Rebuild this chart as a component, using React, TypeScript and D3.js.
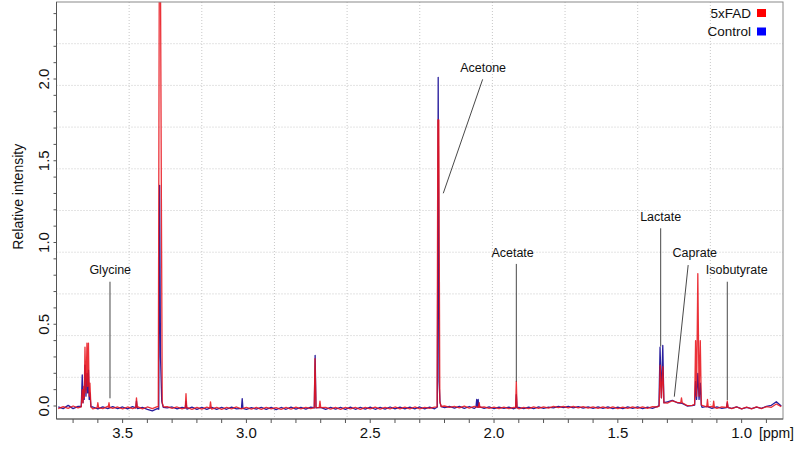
import React from 'react';
import * as d3 from 'd3';

// chemical shift domain (ppm, reversed) and intensity domain
const ppmDomain: [number, number] = [3.767, 0.833];
const intensityDomain: [number, number] = [-0.0795, 2.471];

// baseline read every 0.02 ppm from 3.76 down to 0.84
const BASE_START = 3.76;
const BASE_STEP = 0.02;

const redBaseline = [
  -0.016, -0.004, -0.014, 0.000, -0.012, 0.000, 0.005, -0.018, -0.004, -0.016,
  -0.002, -0.014, -0.006, -0.018, -0.006, -0.016, -0.004, -0.018, -0.006, -0.016,
  -0.004, 0.000, -0.004, -0.014, -0.006, -0.018, -0.008, -0.020, -0.008, -0.019,
  -0.007, -0.019, -0.008, -0.020, -0.009, -0.017, -0.006, -0.018, -0.008, -0.019,
  -0.009, -0.020, -0.008, -0.018, -0.010, -0.021, -0.009, -0.019, -0.007, -0.018,
  -0.008, -0.016, -0.004, -0.017, -0.009, -0.019, -0.008, -0.020, -0.008, -0.018,
  -0.009, -0.020, -0.008, -0.018, -0.007, -0.019, -0.008, -0.018, -0.006, -0.017,
  -0.007, -0.018, -0.006, -0.017, -0.008, -0.015, -0.007, -0.014, 0.000, -0.008,
  -0.002, -0.012, -0.001, -0.013, -0.003, -0.014, -0.006, -0.015, -0.007, -0.016,
  -0.007, -0.016, -0.008, -0.017, -0.008, -0.016, -0.006, -0.015, -0.005, -0.013,
  -0.002, -0.010, -0.002, -0.011, -0.003, -0.012, -0.004, -0.013, -0.005, -0.014,
  -0.006, -0.015, -0.006, -0.016, -0.007, -0.015, -0.005, -0.014, -0.006, -0.015,
  -0.004, -0.006, 0.040, 0.018, 0.032, 0.022, 0.012, 0.002, 0.004, 0.020,
  0.004, -0.008, -0.002, -0.014, -0.006, -0.010, -0.016, -0.006, -0.018, -0.007,
  -0.017, -0.006, -0.016, -0.004, -0.008, 0.012, -0.004,
];

const blueBaseline = [
  -0.006, -0.016, 0.004, -0.016, -0.002, 0.002, 0.004, -0.006, -0.018, -0.005,
  -0.016, -0.004, -0.016, -0.006, -0.018, -0.004, -0.016, -0.008, -0.020, -0.030,
  -0.016, 0.000, -0.012, -0.006, -0.018, -0.008, -0.019, -0.007, -0.021, -0.008,
  -0.020, -0.008, -0.021, -0.009, -0.020, -0.007, -0.018, -0.009, -0.021, -0.010,
  -0.019, -0.009, -0.020, -0.008, -0.022, -0.009, -0.020, -0.007, -0.019, -0.008,
  -0.019, -0.007, -0.018, -0.008, -0.020, -0.009, -0.019, -0.008, -0.021, -0.007,
  -0.020, -0.008, -0.019, -0.007, -0.020, -0.009, -0.019, -0.006, -0.018, -0.007,
  -0.018, -0.007, -0.017, -0.006, -0.018, -0.007, -0.017, -0.005, -0.010, -0.003,
  -0.013, -0.002, -0.014, -0.003, -0.015, -0.004, -0.014, -0.006, -0.016, -0.007,
  -0.015, -0.007, -0.017, -0.008, -0.016, -0.007, -0.016, -0.006, -0.015, -0.007,
  -0.012, -0.002, -0.010, -0.003, -0.011, -0.004, -0.013, -0.005, -0.014, -0.006,
  -0.015, -0.006, -0.016, -0.007, -0.016, -0.006, -0.015, -0.005, -0.016, -0.007,
  -0.014, -0.002, 0.040, 0.026, 0.034, 0.020, 0.016, 0.000, 0.002, 0.010,
  -0.008, -0.002, -0.014, -0.006, -0.015, -0.007, -0.014, -0.006, -0.017, -0.008,
  -0.016, -0.007, -0.014, -0.002, 0.004, 0.026, 0.000,
];

// peaks: each group is a run of [ppm, intensity] points
const redPeaks: [number, number][][] = [
  [[3.667, -0.005], [3.663, 0.10], [3.660, 0.02], [3.657, 0.12], [3.655, 0.05], [3.652, 0.36], [3.648, 0.08],
   [3.644, 0.385], [3.641, 0.12], [3.638, 0.385], [3.635, 0.06], [3.632, 0.14], [3.628, -0.005]],
  [[3.603, -0.01], [3.600, 0.02], [3.597, -0.01]],
  [[3.558, -0.008], [3.555, 0.02], [3.552, -0.008]],
  [[3.447, -0.01], [3.444, 0.05], [3.441, -0.01]],
  [[3.356, -0.005], [3.352, 2.6], [3.347, 2.6], [3.340, 0.02], [3.335, -0.005]],
  [[3.247, -0.012], [3.244, 0.075], [3.241, -0.012]],
  [[3.148, -0.013], [3.145, 0.025], [3.142, -0.013]],
  [[2.726, -0.01], [2.723, 0.29], [2.719, -0.01]],
  [[2.706, -0.01], [2.703, 0.03], [2.700, -0.01]],
  [[2.230, -0.005], [2.227, 1.75], [2.223, 1.75], [2.219, 0.03], [2.214, -0.003]],
  [[2.063, -0.008], [2.060, 0.02], [2.057, -0.008]],
  [[1.913, -0.01], [1.910, 0.15], [1.907, -0.01]],
  [[1.333, 0.0], [1.329, 0.25], [1.324, 0.05], [1.318, 0.24], [1.314, 0.02]],
  [[1.246, 0.02], [1.243, 0.05], [1.240, 0.02]],
  [[1.190, 0.01], [1.186, 0.40], [1.182, 0.06], [1.177, 0.81], [1.172, 0.06], [1.167, 0.40], [1.163, 0.01]],
  [[1.141, -0.005], [1.138, 0.04], [1.135, -0.005]],
  [[1.116, -0.008], [1.113, 0.03], [1.110, -0.008]],
  [[1.061, -0.008], [1.058, 0.03], [1.055, -0.008]],
];

const bluePeaks: [number, number][][] = [
  [[3.667, -0.003], [3.663, 0.19], [3.660, 0.02], [3.657, 0.10], [3.655, 0.04], [3.652, 0.25], [3.648, 0.06],
   [3.644, 0.20], [3.641, 0.08], [3.638, 0.22], [3.635, 0.04], [3.632, 0.08], [3.628, -0.005]],
  [[3.447, -0.012], [3.444, 0.03], [3.441, -0.012]],
  [[3.354, -0.02], [3.3505, 1.35], [3.347, 0.30], [3.342, 0.03], [3.336, -0.008]],
  [[3.247, -0.013], [3.244, 0.03], [3.241, -0.013]],
  [[3.020, -0.014], [3.017, 0.045], [3.014, -0.014]],
  [[2.726, -0.012], [2.7225, 0.31], [2.719, -0.012]],
  [[2.229, -0.006], [2.2255, 2.01], [2.222, 0.15], [2.218, 0.02], [2.213, -0.004]],
  [[2.073, -0.008], [2.070, 0.04], [2.067, -0.006], [2.064, 0.04], [2.061, -0.008]],
  [[1.913, -0.012], [1.910, 0.07], [1.907, -0.012]],
  [[1.334, 0.0], [1.3295, 0.36], [1.324, 0.05], [1.3185, 0.37], [1.314, 0.02]],
  [[1.190, 0.005], [1.186, 0.15], [1.182, 0.04], [1.177, 0.20], [1.172, 0.04], [1.167, 0.14], [1.163, 0.005]],
  [[1.061, -0.01], [1.058, 0.02], [1.055, -0.01]],
];

const xMinorTicks = [3.7, 3.6, 3.5, 3.4, 3.3, 3.2, 3.1, 3.0, 2.9, 2.8, 2.7, 2.6, 2.5, 2.4, 2.3, 2.2, 2.1, 2.0,
  1.9, 1.8, 1.7, 1.6, 1.5, 1.4, 1.3, 1.2, 1.1, 1.0, 0.9];
const xTickLabels = ['3.5', '3.0', '2.5', '2.0', '1.5', '1.0'];
const yMinorTicks = [0.0, 0.1, 0.2, 0.3, 0.4, 0.5, 0.6, 0.7, 0.8, 0.9, 1.0, 1.1, 1.2, 1.3, 1.4, 1.5,
  1.6, 1.7, 1.8, 1.9, 2.0, 2.1, 2.2, 2.3, 2.4];
const yTickLabels = ['0.0', '0.5', '1.0', '1.5', '2.0'];

const seriesNames = ['Control', '5xFAD'];
const seriesColors = ['#2a1f9e', '#e8141c'];
const legendColors = ['#0000ff', '#ff0000'];

const annotations = [
  { name: 'Glycine', label: [3.550, 0.832], from: [3.551, 0.760], to: [3.551, 0.047] },
  { name: 'Acetone', label: [2.044, 2.072], from: [2.046, 1.998], to: [2.205, 1.301] },
  { name: 'Acetate', label: [1.925, 0.940], from: [1.910, 0.869], to: [1.910, 0.149] },
  { name: 'Lactate', label: [1.327, 1.158], from: [1.327, 1.087], to: [1.327, 0.363] },
  { name: 'Caprate', label: [1.189, 0.938], from: [1.216, 0.862], to: [1.272, 0.057] },
  { name: 'Isobutyrate', label: [1.020, 0.832], from: [1.058, 0.760], to: [1.058, 0.035] },
];

const FONT = "'Liberation Sans', Arial, Helvetica, sans-serif";

const buildSpectrum = (baseline: number[], peaks: [number, number][][]) => {
  const ranges = peaks.map(g => d3.extent(g, p => p[0]) as [number, number]);
  const base: [number, number][] = baseline
    .map((v, i) => [+(BASE_START - i * BASE_STEP).toFixed(3), v] as [number, number])
    .filter(([p]) => !ranges.some(([lo, hi]) => p >= lo && p <= hi));
  return base.concat(...peaks).sort((a, b) => b[0] - a[0]);
};

export default function App() {
  const W = 800, H = 450;
  const left = 56.5, right = 783, top = 2, bottom = 419;

  const x = d3.scaleLinear().domain(ppmDomain).range([left, right]);
  const y = d3.scaleLinear().domain(intensityDomain).range([bottom, top]);

  const line = d3.line<[number, number]>().x(d => x(d[0])).y(d => y(d[1]));

  const blue = buildSpectrum(blueBaseline, bluePeaks);
  const red = buildSpectrum(redBaseline, redPeaks);

  const gridX = d3.range(1, 10).map(i => left + (i * (right - left)) / 10);
  const gridY = d3.range(1, 10).map(i => top + (i * (bottom - top)) / 10);

  return (
    <svg width={W} height={H} style={{ position: 'absolute', left: 0, top: 0, display: 'block', background: '#fff' }}
      fontFamily={FONT}>
      <defs>
        <clipPath id="plot-clip">
          <rect x={left} y={top} width={right - left} height={bottom - top} />
        </clipPath>
      </defs>

      {/* grid */}
      {gridX.map((gx, i) => (
        <line key={'gx' + i} x1={gx} x2={gx} y1={top} y2={bottom} stroke="#c8c8c8" strokeWidth={1} strokeDasharray="1,2" />
      ))}
      {gridY.map((gy, i) => (
        <line key={'gy' + i} x1={left} x2={right} y1={gy} y2={gy} stroke="#c8c8c8" strokeWidth={1} strokeDasharray="1,2" />
      ))}

      {/* spectra */}
      <g clipPath="url(#plot-clip)" fill="none" strokeLinejoin="round">
        <path d={line(blue) || ''} stroke={seriesColors[0]} strokeWidth={1.3} />
        <path d={line(red) || ''} stroke={seriesColors[1]} strokeWidth={1.3} strokeOpacity={0.88} />
      </g>

      {/* frame */}
      <rect x={left} y={top} width={right - left} height={bottom - top} fill="none" stroke="#8a8a8a" strokeWidth={1} />
      <line x1={left} x2={left} y1={top} y2={bottom} stroke="#555" strokeWidth={1} />
      <line x1={left} x2={right} y1={bottom} y2={bottom} stroke="#555" strokeWidth={1} />

      {/* x axis */}
      {xMinorTicks.map(t => (
        <line key={'xt' + t} x1={x(t)} x2={x(t)} y1={bottom} y2={bottom + 4} stroke="#555" strokeWidth={1} />
      ))}
      {xTickLabels.map(t => (
        <text key={'xl' + t} x={x(+t)} y={438} textAnchor="middle" fontSize={15} fill="#111">{t}</text>
      ))}
      <text x={759} y={438} fontSize={14} fill="#111">[ppm]</text>

      {/* y axis */}
      {yMinorTicks.map(t => (
        <line key={'yt' + t} x1={left - 3} x2={left} y1={y(t)} y2={y(t)} stroke="#555" strokeWidth={1} />
      ))}
      {yTickLabels.map(t => (
        <text key={'yl' + t} transform={`translate(49,${y(+t)}) rotate(-90)`} textAnchor="middle" fontSize={15} fill="#111">{t}</text>
      ))}
      <text transform={`translate(23,${y(1.28)}) rotate(-90)`} textAnchor="middle" fontSize={14} fill="#111">Relative intensity</text>

      {/* annotations */}
      {annotations.map(a => (
        <g key={a.name}>
          <line x1={x(a.from[0])} y1={y(a.from[1])} x2={x(a.to[0])} y2={y(a.to[1])} stroke="#333" strokeWidth={0.9} />
          <text x={x(a.label[0])} y={y(a.label[1])} dy="0.35em" textAnchor="middle" fontSize={12.5} fill="#111">{a.name}</text>
        </g>
      ))}

      {/* legend */}
      {[1, 0].map((s, i) => (
        <g key={seriesNames[s]}>
          <text x={751} y={13 + i * 18} dy="0.35em" textAnchor="end" fontSize={13.5} fill="#111">{seriesNames[s]}</text>
          <rect x={757} y={9 + i * 18.5} width={9} height={8} fill={legendColors[s]} />
        </g>
      ))}
    </svg>
  );
}
